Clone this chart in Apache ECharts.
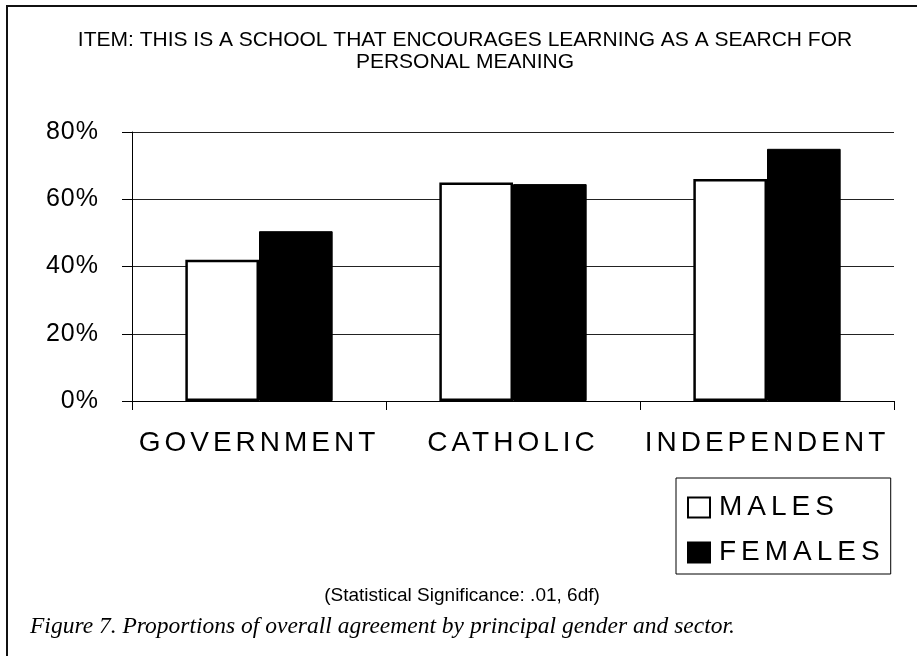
<!DOCTYPE html>
<html>
<head>
<meta charset="utf-8">
<script src="https://cdn.jsdelivr.net/npm/echarts@6/dist/echarts.min.js"></script>
<style>
  html, body { margin: 0; padding: 0; background: #fff; }
  #chart { width: 917px; height: 656px; }
</style>
</head>
<body>
<div id="chart"></div>
<script>
// Sectors on the category axis
const sectors = ['GOVERNMENT', 'CATHOLIC', 'INDEPENDENT'];
// Share of principals agreeing (%)
const males = [42, 65, 66];
const females = [50.5, 64.5, 75];
// Value axis ticks (%)
const yTicks = [0, 20, 40, 60, 80];
const seriesNames = ['MALES', 'FEMALES'];
const titleLines = ['ITEM: THIS IS A SCHOOL THAT ENCOURAGES LEARNING AS A SEARCH FOR', 'PERSONAL MEANING'];
const noteText = '(Statistical Significance: .01, 6df)';
const captionText = 'Figure 7. Proportions of overall agreement by principal gender and sector.';

// Letter-spaced lettering: a font list carrying a "lsN" token gets N px of tracking.
(function () {
  const P = CanvasRenderingContext2D.prototype;
  if (!('letterSpacing' in P)) return;
  const spacing = (ctx) => {
    const m = /\bls(\d+)\b/.exec(ctx.font || '');
    return m ? m[1] + 'px' : '0px';
  };
  ['fillText', 'strokeText', 'measureText'].forEach((name) => {
    const orig = P[name];
    P[name] = function () {
      const s = spacing(this);
      if (this.letterSpacing !== s) this.letterSpacing = s;
      return orig.apply(this, arguments);
    };
  });
})();

const SANS = 'Liberation Sans, Arial';
const chart = echarts.init(document.getElementById('chart'), null, { renderer: 'canvas' });

chart.setOption({
  animation: false,
  backgroundColor: '#fff',
  grid: { left: 132, right: 23, top: 132, bottom: 255, outerBoundsMode: 'none' },
  legend: {
    data: seriesNames,
    orient: 'vertical',
    left: 676,
    top: 478,
    padding: [13, 6, 5, 11],
    itemWidth: 22,
    itemHeight: 20,
    itemGap: 12,
    borderColor: '#000',
    borderWidth: 1,
    icon: 'rect',
    textStyle: { color: '#000', fontSize: 28, lineHeight: 28, fontFamily: SANS + ', ls5', padding: [0, 0, 0, 4] }
  },
  xAxis: {
    type: 'category',
    data: sectors,
    axisLine: { lineStyle: { color: '#000', width: 1 } },
    axisTick: { show: true, length: 9, lineStyle: { color: '#000' } },
    axisLabel: { interval: 0, margin: 26, color: '#000', fontSize: 28, fontFamily: SANS + ', ls4' },
    splitLine: { show: false }
  },
  yAxis: {
    type: 'value',
    min: yTicks[0],
    max: yTicks[yTicks.length - 1],
    interval: yTicks[1] - yTicks[0],
    axisLine: { show: true, lineStyle: { color: '#000', width: 1 } },
    axisTick: { show: true, length: 10, lineStyle: { color: '#000' } },
    axisLabel: { margin: 33, color: '#000', fontSize: 25, fontFamily: SANS + ', ls1', formatter: '{value}%' },
    splitLine: { show: true, lineStyle: { color: '#222', width: 1 } }
  },
  series: [
    {
      name: seriesNames[0],
      type: 'bar',
      data: males,
      barGap: '0%',
      barCategoryGap: '42%',
      itemStyle: { color: '#fff', borderColor: '#000', borderWidth: 2.5 }
    },
    {
      name: seriesNames[1],
      type: 'bar',
      data: females,
      itemStyle: { color: '#000', borderColor: '#000', borderWidth: 1 }
    }
  ],
  graphic: [
    {
      type: 'rect',
      silent: true,
      shape: { x: 7, y: 6, width: 1000, height: 1000 },
      style: { fill: 'none', stroke: '#111', lineWidth: 2 }
    },
    {
      type: 'text', x: 465, y: 40,
      style: { text: titleLines[0], fill: '#000', fontSize: 21, fontFamily: SANS, textAlign: 'center', textVerticalAlign: 'middle' }
    },
    {
      type: 'text', x: 465, y: 62,
      style: { text: titleLines[1], fill: '#000', fontSize: 21, fontFamily: SANS, textAlign: 'center', textVerticalAlign: 'middle' }
    },
    {
      type: 'text', x: 462, y: 596,
      style: { text: noteText, fill: '#000', fontSize: 19, fontFamily: SANS, textAlign: 'center', textVerticalAlign: 'middle' }
    },
    {
      type: 'text', x: 30, y: 627,
      style: { text: captionText, fill: '#000', fontSize: 23.5, fontStyle: 'italic', fontFamily: 'Liberation Serif, serif', textAlign: 'left', textVerticalAlign: 'middle' }
    }
  ]
});
</script>
</body>
</html>
